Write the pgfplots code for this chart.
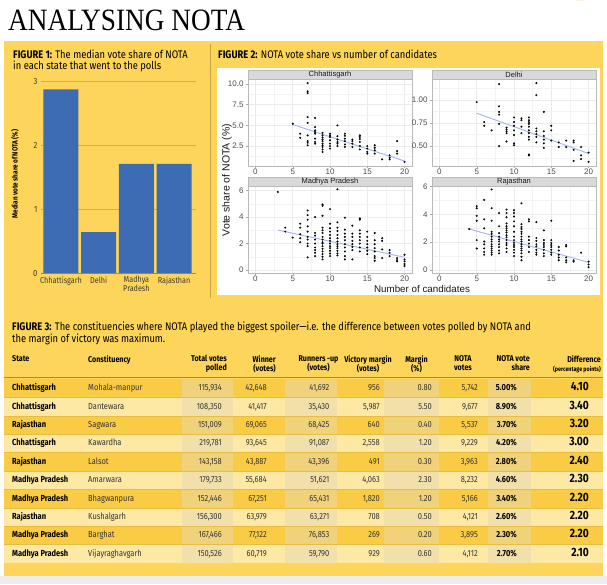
\documentclass[border=0pt]{standalone}
\usepackage{fontspec}
\setmainfont{Fira Sans}[FakeStretch=0.85]
\newfontfamily\ggf{Liberation Sans}
\newfontfamily\titlef{Liberation Serif}[FakeStretch=0.88]
\usepackage{pgfplots}
\pgfplotsset{compat=1.18}
\definecolor{bg}{HTML}{FDD55A}
\definecolor{rowdark}{HTML}{FACC45}
\definecolor{rowlight}{HTML}{FDE8A4}
\definecolor{bandc}{HTML}{E8D9B0}
\definecolor{sepc}{HTML}{E6BE45}
\definecolor{rulec}{HTML}{A88A3A}
\definecolor{orangec}{HTML}{F0952A}
\definecolor{barblue}{HTML}{3E6CB4}
\definecolor{gridc}{HTML}{D5AE45}
\definecolor{axc}{HTML}{9C8B5A}
\definecolor{tickc}{HTML}{3F3B2E}
\definecolor{gg92}{HTML}{EBEBEB}
\definecolor{gg95}{HTML}{F3F3F3}
\definecolor{ggtick}{HTML}{4D4D4D}
\definecolor{ggstrip}{HTML}{1A1A1A}
\definecolor{stripc}{HTML}{D9D9D9}
\definecolor{trend}{HTML}{A3B5E6}
\definecolor{vline}{HTML}{C8A640}
\definecolor{greyfoot}{HTML}{EDEDED}
\pgfplotsset{facet/.style={scale only axis, width=164pt, height=87pt, xmin=-1, xmax=21,
  xtick={0,5,10,15,20}, xticklabels={0,5,10,15,20}, minor xtick={2.5,7.5,12.5,17.5},
  grid=both, major grid style={draw=gg92, line width=0.5pt}, minor grid style={draw=gg95, line width=0.3pt},
  axis line style={draw=gray!55, line width=0.4pt},
  tick pos=left, tick align=outside, major tick length=2pt, minor tick length=0pt,
  tick style={draw=gray!70, line width=0.4pt},
  ticklabel style={font=\ggf\fontsize{8}{9}\selectfont, text=ggtick},
  xticklabel style={yshift=2.5pt}, yticklabel style={xshift=1pt},
  axis background/.style={fill=white}}}
\newcommand\tabr{\fontsize{8.8}{10}\selectfont}
\newcommand\tabb{\bfseries\fontsize{8.8}{10}\selectfont}
\newcommand\tabd{\bfseries\fontsize{12}{13}\selectfont}
\newcommand\rowA[9]{%
 \node[anchor=mid west,inner sep=0,font=\tabb] at (12,-#1) {#2};
 \node[anchor=mid west,inner sep=0,font=\tabr,text=black!80] at (88,-#1) {#3};
 \node[anchor=mid east,inner sep=0,font=\tabr,text=black!80] at (222,-#1) {#4};
 \node[anchor=mid east,inner sep=0,font=\tabr,text=black!80] at (267,-#1) {#5};
 \node[anchor=mid east,inner sep=0,font=\tabr,text=black!80] at (329.5,-#1) {#6};
 \node[anchor=mid east,inner sep=0,font=\tabr,text=black!80] at (380,-#1) {#7};
 \node[anchor=mid east,inner sep=0,font=\tabr,text=black!80] at (432,-#1) {#8};
 \node[anchor=mid east,inner sep=0,font=\tabr,text=black!80] at (478,-#1) {#9};}
\newcommand\rowB[3]{%
 \node[anchor=mid east,inner sep=0,font=\tabb] at (517,-#1) {#2};
 \node[anchor=mid east,inner sep=0,font=\tabd] at (589,-#1) {#3};}
\begin{document}
\begin{tikzpicture}[x=1pt,y=1pt]
\path[use as bounding box] (0,0) rectangle (607,-584);
\fill[white] (0,0) rectangle (607,-584);
\node[anchor=base west, inner sep=0, font=\titlef\fontsize{31}{31}\selectfont] at (8,-30) {ANALYSING NOTA};
\fill[orangec] (575,0) -- (583,0) -- (607,30) -- (607,39) -- (575,39) -- cycle;
\fill[bg] (4,-41) rectangle (603,-576);
\fill[greyfoot] (0,-576) rectangle (607,-584);
% ---------- Figure 1
\node[anchor=north west, align=left, inner sep=0, font=\fontsize{11}{11.2}\selectfont] at (13,-49.5)
 {\textbf{FIGURE 1:} The median vote share of NOTA\\in each state that went to the polls};
\node[rotate=90, inner sep=0, font=\bfseries\fontsize{7.5}{8}\selectfont] at (15,-174) {Median vote share of NOTA (\%)};
\begin{axis}[at={(41pt,-273pt)}, anchor=south west, scale only axis, width=155pt, height=191.3pt,
 xmin=-0.53, xmax=3.58, ymin=0, ymax=3, clip=false,
 ybar, bar width=35pt,
 axis line style={draw=none}, major tick length=0pt,
 xtick={0,1,2,3}, xticklabels={Chhattisgarh,Delhi,{Madhya\\Pradesh},Rajasthan},
 xticklabel style={align=center, font=\fontsize{8.5}{9}\selectfont, text=tickc},
 ytick={1,2,3}, yticklabels={1,2,3}, extra y ticks={0}, extra y tick labels={0},
 extra y tick style={grid style={draw=axc, line width=0.8pt}},
 yticklabel style={font=\fontsize{9}{10}\selectfont, text=tickc},
 ymajorgrids, grid style={draw=gridc, line width=0.5pt}]
\addplot[fill=barblue, draw=none] coordinates {(0,2.88) (1,0.64) (2,1.71) (3,1.71)};
\end{axis}
% ---------- Figure 2
\draw[vline, line width=0.6pt] (210,-44) -- (210,-298);
\node[anchor=north west, inner sep=0, font=\fontsize{11}{11.2}\selectfont] at (218,-49.5)
 {\textbf{FIGURE 2:} NOTA vote share vs number of candidates};
\fill[white] (217,-68) rectangle (600,-295);
\begin{axis}[facet, name=c1, at={(248pt,-166pt)}, anchor=south west, ymin=0.1, ymax=10.6,
 ytick={2.5,5,7.5,10}, yticklabels={2.5,5.0,7.5,10.0}, minor ytick={1.25,3.75,6.25,8.75}]
\addplot[only marks, mark=*, mark size=0.8pt, mark options={draw=none, fill=black!85}] coordinates {
(5,5.2) (6,4.0)(6,3.5)
(7,10.1)(7,9.1)(7,8.9)(7,6.0)(7,5.3)(7,3.8)(7,3.1)(7,2.9)(7,2.6)
(8,5.9)(8,4.8)(8,4.4)(8,4.2)(8,4.0)(8,3.4)(8,3.0)(8,2.8)
(9,4.1)(9,3.8)(9,3.55)(9,3.3)(9,3.1)(9,2.8)(9,2.6)(9,2.4)(9,2.1)(9,1.8)
(10,4.0)(10,3.8)(10,3.6)(10,3.2)(10,2.8)(10,2.5)(10,2.2)
(11,5.0)(11,3.7)(11,3.3)(11,3.0)(11,2.8)(11,2.5)
(12,4.0)(12,3.75)(12,3.4)(12,3.1)(12,2.7)(12,2.4)
(13,3.3)(13,3.1)(13,2.8)(13,2.4)
(14,3.8)(14,3.6)(14,3.35)(14,3.0)(14,2.5)(14,2.1)
(15,2.5)(15,2.2)(15,1.8)(15,1.6)
(16,2.6)(16,2.3)(16,2.0)(16,1.6)
(17,0.9) (18,1.4)(18,1.1)(18,0.9)
(19,3.1)(19,1.9)(19,1.6) (20,0.6)};
\addplot[no marks, trend, line width=0.9pt] coordinates {(5,5.1) (20,0.7)};
\end{axis}
\begin{axis}[facet, name=c2, at={(432pt,-166pt)}, anchor=south west, ymin=0.285, ymax=1.225,
 ytick={0.5,0.75,1}, yticklabels={0.50,0.75,1.00}, minor ytick={0.375,0.625,0.875,1.125}]
\addplot[only marks, mark=*, mark size=0.8pt, mark options={draw=none, fill=black!85}] coordinates {
(5,0.975) (6,0.76)(6,0.72) (7,0.67)
(8,1.17)(8,0.93)(8,0.87)(8,0.84)(8,0.74)(8,0.50)
(9,0.70)(9,0.68)(9,0.66)(9,0.64)(9,0.55)
(10,0.81)(10,0.76)(10,0.72)(10,0.67)(10,0.62)(10,0.53)(10,0.51)
(11,0.80)(11,0.78)(11,0.71)(11,0.64)
(12,0.81)(12,0.78)(12,0.76)(12,0.74)(12,0.71)(12,0.67)(12,0.64)(12,0.60)(12,0.57)(12,0.41)(12,0.40)
(13,1.18)(13,1.05)(13,0.69)(13,0.66)(13,0.63)(13,0.60)(13,0.54)
(14,0.87)(14,0.66)(14,0.61)(14,0.57)(14,0.53)(14,0.48)
(15,0.72)(15,0.67)(15,0.56)
(16,0.54)(16,0.49) (17,0.56)(17,0.49)
(18,0.56)(18,0.54)(18,0.46)(18,0.34)
(19,0.49)(19,0.40)(19,0.36) (20,0.43)(20,0.33)};
\addplot[no marks, trend, line width=0.9pt] coordinates {(5,0.855) (20,0.42)};
\end{axis}
\begin{axis}[facet, name=c3, at={(248pt,-273pt)}, anchor=south west, ymin=-0.23, ymax=6.35,
 ytick={0,2,4,6}, yticklabels={0,2,4,6}, minor ytick={1,3,5}]
\addplot[only marks, mark=*, mark size=0.8pt, mark options={draw=none, fill=black!85}] coordinates {
(3,5.9) (4,3.2)(4,2.9) (5,2.45)
(6,3.5)(6,3.2)(6,2.7)(6,2.4)(6,2.1)
(7,4.5)(7,4.15)(7,3.8)(7,3.3)(7,2.9)(7,2.5)(7,2.3)(7,2.0)(7,1.8)(7,0.95)
(8,4.0)(8,2.8)(8,2.6)(8,2.3)(8,2.0)(8,1.7)(8,1.5)(8,1.3)(8,1.05)
(9,4.95)(9,4.85)(9,4.1)(9,3.2)(9,3.0)(9,2.8)(9,2.5)(9,2.3)(9,2.1)(9,2.0)(9,1.8)(9,1.6)(9,1.4)(9,1.2)(9,1.0)(9,0.8)
(10,4.6)(10,3.5)(10,3.15)(10,2.9)(10,2.65)(10,2.4)(10,2.2)(10,2.0)(10,1.8)(10,1.65)(10,1.45)(10,1.25)(10,1.05)
(11,6.1)(11,3.6)(11,3.2)(11,2.95)(11,2.65)(11,2.4)(11,2.15)(11,1.95)(11,1.8)(11,1.65)(11,1.45)(11,1.25)(11,1.1)
(12,3.95)(12,3.05)(12,2.75)(12,2.5)(12,2.25)(12,1.95)(12,1.7)(12,1.4)(12,1.05)(12,0.8)
(13,3.35)(13,2.75)(13,2.5)(13,2.2)(13,1.95)(13,1.75)(13,1.5)(13,0.8)
(14,3.9)(14,3.8)(14,3.0)(14,2.75)(14,2.5)(14,2.25)(14,2.0)(14,1.7)(14,1.4)
(15,2.9)(15,2.5)(15,2.2)(15,1.95)(15,1.7)(15,1.45)(15,1.2)
(16,2.8)(16,2.25)(16,1.95)(16,1.65)(16,1.4)(16,1.05)(16,0.9)(16,0.7)
(17,2.4)(17,2.2)(17,1.55)(17,0.9)
(18,1.5)(18,1.3)(18,1.05)
(19,0.9)(19,0.75)(19,0.65)
(20,1.15)(20,0.8)(20,0.65)(20,0.45)(20,0.3)};
\addplot[no marks, trend, line width=0.9pt] coordinates {(3,3.02) (20,0.96)};
\end{axis}
\begin{axis}[facet, name=c4, at={(432pt,-273pt)}, anchor=south west, ymin=-0.22, ymax=6.05,
 ytick={0,2,4,6}, yticklabels={0,2,4,6}, minor ytick={1,3,5}]
\addplot[only marks, mark=*, mark size=0.8pt, mark options={draw=none, fill=black!85}] coordinates {
(4,2.95)
(5,4.6)(5,4.45)(5,3.9)(5,3.55)(5,2.15)(5,1.55)
(6,5.05)(6,3.65)(6,3.0)(6,2.05)(6,1.85)(6,1.55)(6,1.3)(6,1.1)
(7,5.8)(7,4.45)(7,3.55)(7,2.75)(7,2.6)(7,2.4)(7,2.2)(7,2.05)(7,1.85)(7,1.7)(7,1.55)(7,1.4)(7,1.25)(7,1.1)
(8,4.1)(8,3.15)(8,2.65)(8,2.4)(8,2.2)(8,2.05)(8,1.85)(8,1.65)(8,1.4)(8,1.2)
(9,4.35)(9,4.1)(9,3.8)(9,3.35)(9,3.15)(9,3.0)(9,2.85)(9,2.7)(9,2.5)(9,2.35)(9,2.15)(9,1.95)(9,1.8)(9,1.55)(9,1.3)
(10,4.3)(10,4.1)(10,3.85)(10,3.5)(10,3.15)(10,2.75)(10,2.4)(10,2.15)(10,1.95)(10,1.8)(10,1.65)(10,1.45)(10,1.25)(10,1.0)
(11,4.8)(11,3.3)(11,3.1)(11,2.95)(11,2.75)(11,2.6)(11,2.4)(11,2.2)(11,2.05)(11,1.85)(11,1.7)(11,1.55)(11,1.4)(11,1.2)(11,0.95)(11,0.7)
(12,3.65)(12,3.5)(12,2.4)(12,2.15)(12,1.9)(12,1.65)(12,1.3)
(13,3.45)(13,2.3)(13,2.1)(13,1.85)(13,1.7)(13,1.45)(13,1.25)(13,1.1)
(14,2.85)(14,2.15)(14,1.95)(14,1.8)(14,1.65)(14,1.45)(14,1.2)(14,1.0)
(15,3.55)(15,2.15)(15,1.95)(15,1.8)(15,1.65)(15,1.45)(15,1.25)(15,1.1)
(16,1.65)(16,1.4)(16,1.1)(16,0.9)(16,0.7)
(17,1.8)(17,1.7)(17,0.9)(17,0.7)(17,0.55)
(18,0.7)(18,0.6) (19,1.25)
(20,0.6)(20,0.4)(20,0.2)};
\addplot[no marks, trend, line width=0.9pt] coordinates {(4,2.95) (20,0.55)};
\end{axis}
\foreach \a/\t in {c1/Chhattisgarh,c2/Delhi,c3/Madhya Pradesh,c4/Rajasthan}{
 \fill[stripc] (\a.north west) rectangle ([yshift=9pt]\a.north east);
 \draw[gray!55, line width=0.4pt] (\a.north west) rectangle ([yshift=9pt]\a.north east);
 \node[inner sep=0, font=\ggf\fontsize{7.5}{8}\selectfont, text=ggstrip] at ([yshift=4.5pt]\a.north) {\t};
}
\node[rotate=90, inner sep=0, font=\ggf\fontsize{10.5}{11}\selectfont, text=ggstrip] at (227,-180) {Vote share of NOTA (\%)};
\node[inner sep=0, font=\ggf\fontsize{9.8}{11}\selectfont, text=ggstrip] at (422,-289) {Number of candidates};
% ---------- Figure 3
\node[anchor=north west, align=left, inner sep=0, font=\fontsize{11}{12.5}\selectfont] at (12,-321.5)
 {\textbf{FIGURE 3:} The constituencies where NOTA played the biggest spoiler---i.e. the difference between votes polled by NOTA and\\the margin of victory was maximum.};
\foreach \i in {0,2,4,6,8} \fill[rowdark] (4,{-(379+18.4*\i)}) rectangle (603,{-(379+18.4*(\i+1))});
\foreach \i in {1,3,5,7,9} \fill[rowlight] (4,{-(379+18.4*\i)}) rectangle (603,{-(379+18.4*(\i+1))});
\foreach \l/\r in {182/232.5,285/337,384/439,488/531}
 \fill[bandc, opacity=0.5] (\l,-379) rectangle (\r,-563);
\foreach \i in {1,...,9} \draw[sepc, line width=0.5pt] (4,{-(379+18.4*\i)}) -- (603,{-(379+18.4*\i)});
\draw[rulec, line width=1.3pt] (4,-377.5) -- (603,-377.5);
\begin{scope}[every node/.style={inner sep=0, font=\bfseries\fontsize{8.4}{9.3}\selectfont}]
\node[anchor=north west] at (12,-355) {State};
\node[anchor=north west] at (88,-355) {Constituency};
\node[anchor=north east, align=right] at (227,-355) {Total votes\\polled};
\node[anchor=north east, align=right] at (276,-355) {Winner\\(votes)};
\node[anchor=north, align=center] at (318.5,-355) {Runners -up\\(votes)};
\node[anchor=north, align=center] at (368,-355) {Victory margin\\(votes)};
\node[anchor=north, align=center] at (416.5,-355) {Margin\\(\%)};
\node[anchor=north, align=center] at (463,-355) {NOTA\\votes};
\node[anchor=north east, align=right] at (530,-355) {NOTA vote\\share};
\node[anchor=north east, align=right] at (601,-355) {Difference\\{\fontsize{6.3}{9.3}\selectfont(percentage points)}};
\end{scope}
\rowA{388}{Chhattisgarh}{Mohala-manpur}{115,934}{42,648}{41,692}{956}{0.80}{5,742}\rowB{388}{5.00\%}{4.10}
\rowA{406.4}{Chhattisgarh}{Dantewara}{108,350}{41,417}{35,430}{5,987}{5.50}{9,677}\rowB{406.4}{8.90\%}{3.40}
\rowA{424.8}{Rajasthan}{Sagwara}{151,009}{69,065}{68,425}{640}{0.40}{5,537}\rowB{424.8}{3.70\%}{3.20}
\rowA{443.2}{Chhattisgarh}{Kawardha}{219,781}{93,645}{91,087}{2,558}{1.20}{9,229}\rowB{443.2}{4.20\%}{3.00}
\rowA{461.6}{Rajasthan}{Lalsot}{143,158}{43,887}{43,396}{491}{0.30}{3,963}\rowB{461.6}{2.80\%}{2.40}
\rowA{480}{Madhya Pradesh}{Amarwara}{179,733}{55,684}{51,621}{4,063}{2.30}{8,232}\rowB{480}{4.60\%}{2.30}
\rowA{498.4}{Madhya Pradesh}{Bhagwanpura}{152,446}{67,251}{65,431}{1,820}{1.20}{5,166}\rowB{498.4}{3.40\%}{2.20}
\rowA{516.8}{Rajasthan}{Kushalgarh}{156,300}{63,979}{63,271}{708}{0.50}{4,121}\rowB{516.8}{2.60\%}{2.20}
\rowA{535.2}{Madhya Pradesh}{Barghat}{167,466}{77,122}{76,853}{269}{0.20}{3,895}\rowB{535.2}{2.30\%}{2.20}
\rowA{553.6}{Madhya Pradesh}{Vijayraghavgarh}{150,526}{60,719}{59,790}{929}{0.60}{4,112}\rowB{553.6}{2.70\%}{2.10}
\end{tikzpicture}
\end{document}
